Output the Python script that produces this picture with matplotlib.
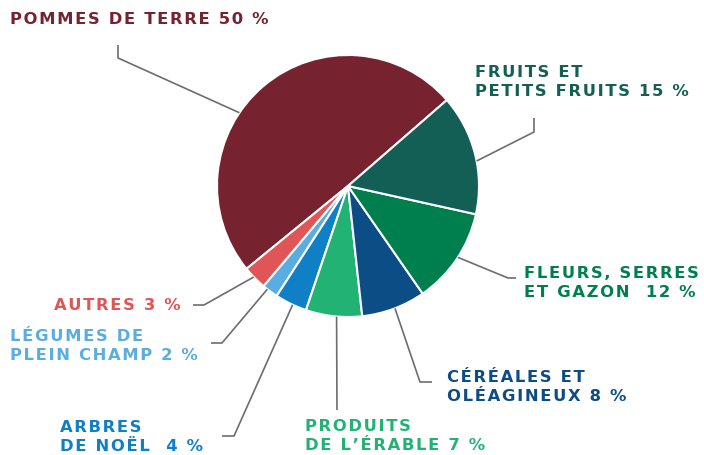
import matplotlib
matplotlib.use("Agg")
import matplotlib.pyplot as plt
import numpy as np

# --- données ---
labels = ["POMMES DE TERRE 50 %", "AUTRES 3 %", "LÉGUMES DE\nPLEIN CHAMP 2 %",
          "ARBRES\nDE NOËL  4 %", "PRODUITS\nDE L’ÉRABLE 7 %", "CÉRÉALES ET\nOLÉAGINEUX 8 %",
          "FLEURS, SERRES\nET GAZON  12 %", "FRUITS ET\nPETITS FRUITS 15 %"]
values = [50, 3, 2, 4, 7, 8, 12, 15]
colors = ["#76232f", "#e05656", "#5aade0", "#0f7fc6", "#22b374", "#0b4d84", "#007f4e", "#135f55"]

W, H = 704, 455
CX, CY, R = 348, 186, 131  # centre (pixels image)

def Y(y):
    return H - y

def spaced(s):
    # espacement des lettres (hair space)
    return "\n".join("\u200a".join(line) for line in s.split("\n"))

fig = plt.figure(figsize=(W / 100, H / 100), dpi=100)
ax = fig.add_axes([0, 0, 1, 1])

ax.pie(values, colors=colors, startangle=41, counterclock=True, center=(CX, Y(CY)), radius=R,
       wedgeprops=dict(edgecolor="white", linewidth=1.5))
ax.set_xlim(0, W)
ax.set_ylim(0, H)
ax.set_aspect("equal")
ax.axis("off")

def edge(angle):
    a = np.radians(angle)
    return CX + R * np.cos(a), Y(CY) + R * np.sin(a)

# --- lignes de rappel: (angle sur le bord, points du coude en pixels) ---
leaders = [
    (146, [(118, 58), (118, 45)]),
    (224, [(204, 305), (193, 305)]),
    (232, [(222, 343), (211, 343)]),
    (245, [(234, 436), (222, 436)]),
    (-95, [(337, 410)]),
    (-69, [(420, 382), (432, 382)]),
    (-33, [(508, 278), (516, 278)]),
    (11, [(534, 132), (534, 118)]),
]
for ang, pts in leaders:
    x0, y0 = edge(ang)
    xs = [x0] + [p[0] for p in pts]
    ys = [y0] + [Y(p[1]) for p in pts]
    ax.plot(xs, ys, color="#6d6d6d", lw=1.2, solid_capstyle="butt")

# --- étiquettes: (x, y centre, alignement) ---
pos = [
    (10, 19, "left"),
    (181, 305, "right"),
    (10, 346, "left"),
    (60, 437, "left"),
    (305, 436, "left"),
    (447, 387, "left"),
    (524, 283, "left"),
    (475, 82, "left"),
]
for lab, c, (x, y, ha) in zip(labels, colors, pos):
    ax.text(x, Y(y), spaced(lab), color=c, fontsize=11.8, fontweight="bold", ha=ha, va="center",
            linespacing=1.3, family="DejaVu Sans")

fig.savefig("out.png", dpi=100)
